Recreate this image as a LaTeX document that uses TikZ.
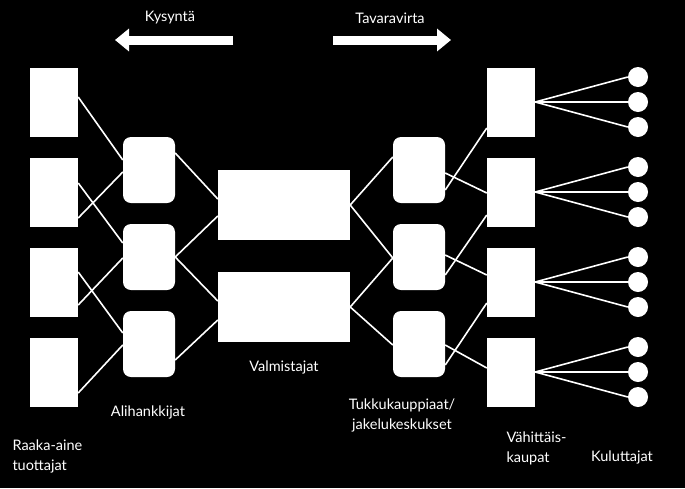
\documentclass[tikz,border=0pt]{standalone}
\usepackage{fontspec}
\setmainfont{Lato}
\usetikzlibrary{calc,arrows.meta}
\tikzset{
  raw/.style    = {fill=white, minimum width=48pt, minimum height=69pt, inner sep=0pt},
  rounded/.style = {fill=white, rounded corners=8pt, minimum width=52pt, minimum height=66pt, inner sep=0pt},
  maker/.style  = {fill=white, minimum width=132pt, minimum height=70pt, inner sep=0pt},
  consumer/.style = {fill=white, circle, minimum size=20pt, inner sep=0pt},
  link/.style   = {draw=white, line width=1.6pt},
  label/.style  = {text=white, font=\fontsize{14.5}{20}\selectfont, align=center},
  flow/.style   = {draw=white, line width=9pt, -{Triangle[length=14pt, width=22pt]}}
}
\begin{document}
\begin{tikzpicture}[x=1pt,y=-1pt]
\fill[black] (0,0) rectangle (685,488);
\useasboundingbox (0,0) rectangle (685,488);

% arrows at the top
\node[label] (kys) at (170,18) {Kysyntä};
\node[label] (tav) at (390,18) {Tavaravirta};
\coordinate (ka) at (233,40);
\coordinate (kb) at (115,40);
\coordinate (ta) at (333,40);
\coordinate (tb) at (451,40);
\draw[flow] (ka) -- (kb);
\draw[flow] (ta) -- (tb);

% columns of nodes
\foreach \i/\y in {1/102,2/192,3/282,4/372} {
  \node[raw] (r\i) at (54,\y) {};
  \node[raw] (t\i) at (511,\y) {};
  \foreach \j/\d in {1/-25,2/0,3/25}
    \node[consumer] (c\i\j) at (638,\y+\d) {};
}
\foreach \i/\y in {1/170,2/257,3/344} {
  \node[rounded] (s\i) at (149,\y) {};
  \node[rounded] (w\i) at (419,\y) {};
}
\node[maker] (m1) at (284,205) {};
\node[maker] (m2) at (284,307) {};

% raw materials to subcontractors
\draw[link] ($(r1.east)+(0,-5)$) -- ($(s1.west)+(0,-10)$);
\draw[link] ($(r2.east)+(0,-9)$) -- ($(s2.west)+(0,-14)$);
\draw[link] ($(r2.east)+(0,26)$) -- ($(s1.west)+(0,2)$);
\draw[link] ($(r3.east)+(0,-10)$) -- ($(s3.west)+(0,-11)$);
\draw[link] ($(r3.east)+(0,23)$) -- ($(s2.west)+(0,1)$);
\draw[link] ($(r4.east)+(0,21)$) -- ($(s3.west)+(0,1)$);

% subcontractors to manufacturers
\draw[link] ($(s1.east)+(0,-17)$) -- ($(m1.west)+(0,-6)$);
\draw[link] (s2.east) -- ($(m1.west)+(0,11)$);
\draw[link] (s2.east) -- ($(m2.west)+(0,-6)$);
\draw[link] ($(s3.east)+(0,16)$) -- ($(m2.west)+(0,13)$);

% manufacturers to wholesalers
\draw[link] (m1.east) -- ($(w1.west)+(0,-13)$);
\draw[link] (m1.east) -- ($(w2.west)+(0,1)$);
\draw[link] (m2.east) -- ($(w2.west)+(0,1)$);
\draw[link] (m2.east) -- ($(w3.west)+(0,1)$);

% wholesalers to retailers
\draw[link] ($(w1.east)+(0,20)$) -- ($(t1.west)+(0,26)$);
\draw[link] ($(w1.east)+(0,3)$) -- ($(t2.west)+(0,1)$);
\draw[link] ($(w2.east)+(0,18)$) -- ($(t2.west)+(0,23)$);
\draw[link] ($(w2.east)+(0,-2)$) -- ($(t3.west)+(0,-7)$);
\draw[link] ($(w3.east)+(0,21)$) -- ($(t3.west)+(0,21)$);
\draw[link] ($(w3.east)+(0,1)$) -- ($(t4.west)+(0,-4)$);

% retailers to consumers
\foreach \i in {1,...,4}
  \foreach \j in {1,2,3}
    \draw[link] (t\i.east) -- (c\i\j.west);

% labels
\node[label, align=left, anchor=west] (lraw) at (9,456) {Raaka-aine\\tuottajat};
\node[label] (lsub) at (148,412) {Alihankkijat};
\node[label] (lman) at (284,367) {Valmistajat};
\node[label] (lwh) at (402,415) {Tukkukauppiaat/\\jakelukeskukset};
\node[label, align=left, anchor=west] (lret) at (503,448) {Vähittäis-\\kaupat};
\node[label] (lcon) at (622,457) {Kuluttajat};
\end{tikzpicture}
\end{document}
